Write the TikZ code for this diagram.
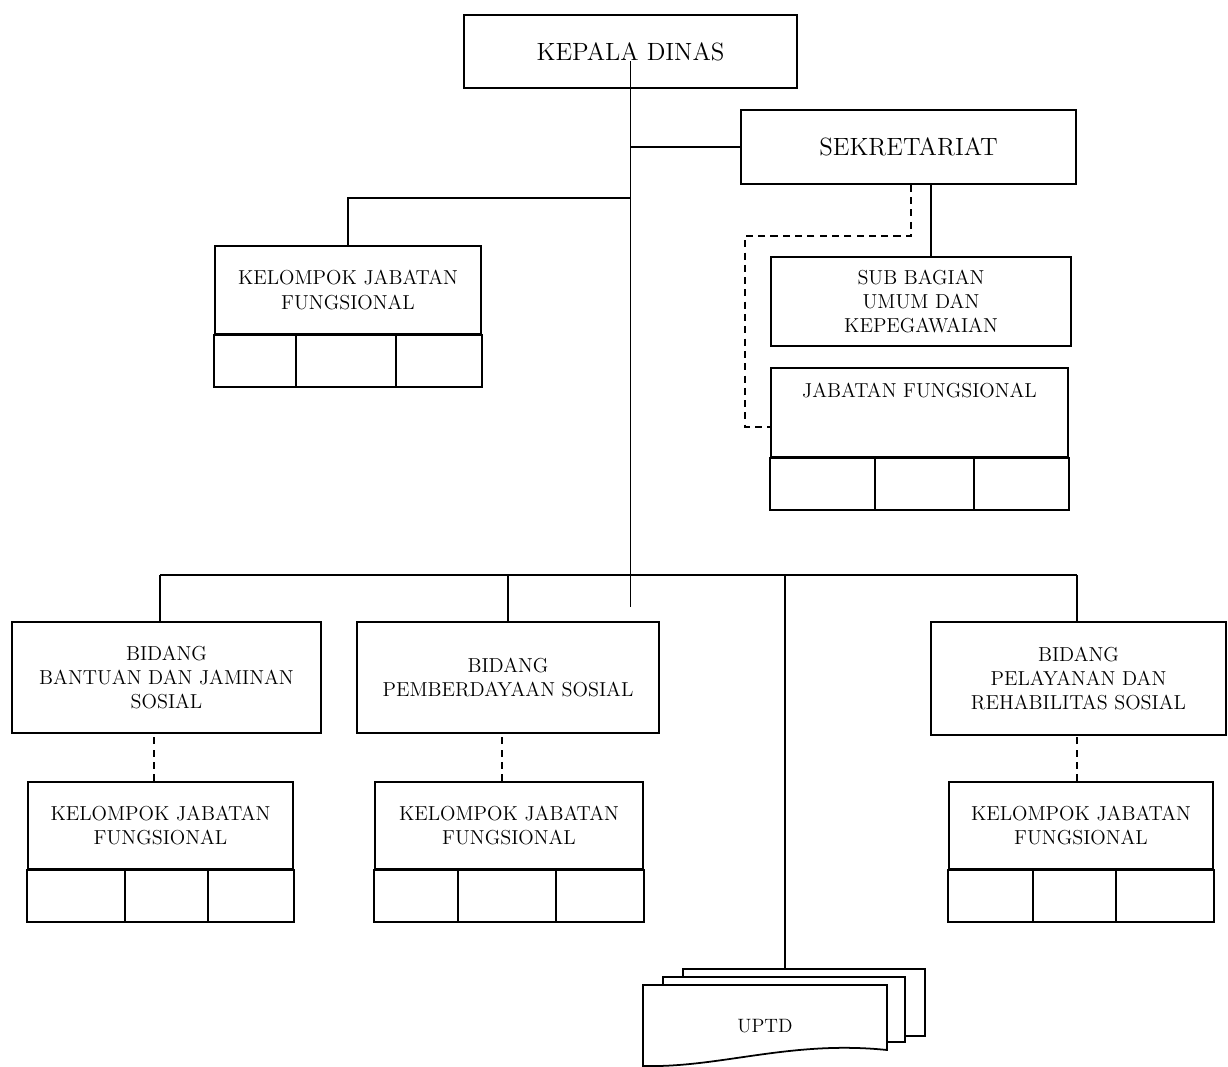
\documentclass[tikz,border=0pt]{standalone}
\usepackage{tikz}
\usetikzlibrary{calc,positioning}

\begin{document}
\begin{tikzpicture}[x=0.02cm,y=-0.02cm,line width=1pt,
	box/.style={draw, align=center, inner sep=2pt, font=\fontsize{11.5}{13.9}\selectfont},
	headbox/.style={box, font=\fontsize{14.2}{17}\selectfont},
	dashlink/.style={dash pattern=on 4pt off 3pt}]
	\newcommand\Cells[3]{
		\draw (#1.south west) rectangle ($(#1.south east)+(0,52)$);
		\draw ($(#1.south west)+(#2,0)$) -- ++(0,52) ($(#1.south west)+(#3,0)$) -- ++(0,52);
	}
	\useasboundingbox (0,0) rectangle (1228,1067);

	\node[headbox, minimum width=6.66cm, minimum height=1.46cm] (kd) at (630.5,51.5) {KEPALA DINAS};
	\node[headbox, minimum width=6.70cm, minimum height=1.48cm] (sek) at (908.5,147) {SEKRETARIAT};

	\node[box, minimum width=5.32cm, minimum height=1.76cm] (kjf0) at (348,290) {KELOMPOK JABATAN\\FUNGSIONAL};
	\Cells{kjf0}{82}{182}

	\node[box, minimum width=6.00cm, minimum height=1.78cm] (sub) at (921,301.5) {SUB BAGIAN\\UMUM DAN\\KEPEGAWAIAN};
	\node[box, minimum width=5.94cm, minimum height=1.78cm,
		label={[anchor=north, yshift=-5pt, font=\fontsize{11.5}{13.9}\selectfont]north:JABATAN FUNGSIONAL}] (jf) at (919.5,412.5) {};
	\Cells{jf}{105}{204}

	\node[box, minimum width=6.18cm, minimum height=2.22cm] (b1) at (166.5,677.5) {BIDANG\\BANTUAN DAN JAMINAN\\SOSIAL};
	\node[box, minimum width=6.04cm, minimum height=2.22cm] (b2) at (508,677.5) {BIDANG\\PEMBERDAYAAN SOSIAL};
	\node[box, minimum width=5.90cm, minimum height=2.26cm] (b3) at (1078.5,678.5) {BIDANG\\PELAYANAN DAN\\REHABILITAS SOSIAL};

	\node[box, minimum width=5.30cm, minimum height=1.74cm] (k1) at (160.5,825.5) {KELOMPOK JABATAN\\FUNGSIONAL};
	\Cells{k1}{98}{181}
	\node[box, minimum width=5.36cm, minimum height=1.74cm] (k2) at (509,825.5) {KELOMPOK JABATAN\\FUNGSIONAL};
	\Cells{k2}{84}{182}
	\node[box, minimum width=5.28cm, minimum height=1.74cm] (k3) at (1081,825.5) {KELOMPOK JABATAN\\FUNGSIONAL};
	\Cells{k3}{85}{168}

	\draw[fill=white] (683,969) rectangle (925,1036);
	\draw[fill=white] (663,977) rectangle (905,1042);
	\draw[fill=white] (643,985) -- (887,985) -- (887,1050) .. controls (790,1040) and (720,1068) .. (643,1066) -- cycle;
	\node[font=\fontsize{11}{13}\selectfont] (uptd) at (765,1026) {UPTD};
	\coordinate (uptdtop) at (785,969);

	\coordinate (trunkend) at (630.5,607);
	\coordinate (kjfjoin) at (630.5,198);
	\coordinate (barL) at (160,575);
	\coordinate (barR) at (1077,575);

	\draw ($(kd.center)+(0,10)$) -- (trunkend);
	\draw (sek.west) -- (sek.west -| kd.center);
	\draw (kjfjoin) -| (kjf0.north);
	\draw ([xshift=0.2cm]sub.north) -- ([xshift=0.2cm]sub.north |- sek.south);
	\draw[dashlink] ([xshift=0.05cm]sek.south) -- ++(0,51) -- ++(-166,0) |- ([yshift=-0.29cm]jf.west);

	\draw (barL) -- (barR);
	\draw (barL) -- (barL |- b1.north);
	\draw (b2.north) -- (b2.north |- barL);
	\draw (barR) -- (barR |- b3.north);
	\draw (uptdtop) -- (uptdtop |- barL);

	\draw[dashlink] ($(k1.north)+(-6.5,0)$) -- ($(k1.north |- b1.south)+(-6.5,0)$);
	\draw[dashlink] ($(k2.north)+(-7,0)$) -- ($(k2.north |- b2.south)+(-7,0)$);
	\draw[dashlink] ($(k3.north)+(-4,0)$) -- ($(k3.north |- b3.south)+(-4,0)$);
\end{tikzpicture}
\end{document}
